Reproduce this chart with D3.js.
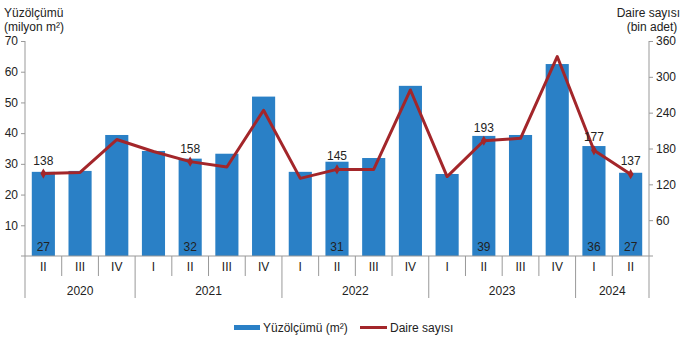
<!DOCTYPE html>
<html><head><meta charset="utf-8">
<script src="https://cdn.jsdelivr.net/npm/d3@7"></script>
<style>body{margin:0;background:#fff}svg text{font-family:"Liberation Sans",Arial,sans-serif;fill:#222}</style>
</head><body><svg id="c" width="682" height="357"></svg>
<script>
const quarters = ["II","III","IV","I","II","III","IV","I","II","III","IV","I","II","III","IV","I","II"];
const years = ["2020","2020","2020","2021","2021","2021","2021","2022","2022","2022","2022","2023","2023","2023","2023","2024","2024"];
const area = [27.4,27.7,39.4,34.2,31.7,33.3,51.9,27.4,30.7,31.9,55.4,26.7,39.1,39.4,62.5,35.8,27.1];
const dwellings = [138,140,195,175,158,149,244,130,145,145,278,133,193,197,334,177,137];
const labeled = [0,4,8,12,15,16];
const leftTicks = [10,20,30,40,50,60,70];
const rightTicks = [60,120,180,240,300,360];
const barColor = "#2A80C6", lineColor = "#A3262A";

const svg = d3.select("#c");
const x0 = 25, x1 = 649, yTop = 41, yBot = 256;
const idx = d3.range(quarters.length);
const x = d3.scaleBand().domain(idx).range([x0, x1]).paddingInner(0.37).paddingOuter(0.185);
const xc = i => x(i) + x.bandwidth()/2;
const yL = d3.scaleLinear().domain([0,70]).range([yBot, yTop]);
const yR = d3.scaleLinear().domain([0,360]).range([yBot, yTop]);

// bars
svg.append("g").selectAll("rect").data(idx).join("rect")
  .attr("x", i => x(i)).attr("width", x.bandwidth())
  .attr("y", i => yL(area[i])).attr("height", i => yBot - yL(area[i]))
  .attr("fill", barColor);

// left axis
const gl = svg.append("g").attr("transform", `translate(${x0},0)`)
  .call(d3.axisLeft(yL).tickValues(leftTicks).tickSize(4).tickPadding(3));
gl.select(".domain").remove();
gl.selectAll("line").attr("stroke","#999");
gl.selectAll("text").style("font-size","12px").attr("fill","#222");
svg.append("line").attr("x1",x0).attr("x2",x0).attr("y1",yTop).attr("y2",298).attr("stroke","#999");

// right axis
const gr = svg.append("g").attr("transform", `translate(${x1},0)`)
  .call(d3.axisRight(yR).tickValues(rightTicks).tickSize(4).tickPadding(3));
gr.select(".domain").remove();
gr.selectAll("line").attr("stroke","#999");
gr.selectAll("text").style("font-size","12px").attr("fill","#222");
svg.append("line").attr("x1",x1).attr("x2",x1).attr("y1",yTop).attr("y2",298).attr("stroke","#999");

// baseline
svg.append("line").attr("x1",x0-4).attr("x2",x1+4).attr("y1",yBot).attr("y2",yBot).attr("stroke","#999");

// quarter separators and labels
idx.forEach(i => {
  if (i > 0) {
    const sx = x(i) - x.step()*x.paddingInner()/2;
    const newYear = years[i] !== years[i-1];
    svg.append("line").attr("x1",sx).attr("x2",sx).attr("y1",yBot).attr("y2", newYear ? 298 : 276).attr("stroke","#999");
  }
  svg.append("text").attr("x", xc(i)).attr("y", 271).attr("text-anchor","middle")
    .style("font-size","12px").text(quarters[i]);
});
// year labels
const yearNames = Array.from(new Set(years));
yearNames.forEach(yv => {
  const ids = idx.filter(i => years[i] === yv);
  const cx = (xc(ids[0]) + xc(ids[ids.length-1]))/2;
  svg.append("text").attr("x", cx).attr("y", 295).attr("text-anchor","middle")
    .style("font-size","12px").text(yv);
});

// line
const line = d3.line().x(i => xc(i)).y(i => yR(dwellings[i]));
svg.append("path").datum(idx).attr("d", line).attr("fill","none")
  .attr("stroke", lineColor).attr("stroke-width", 3).attr("stroke-linejoin","round");
svg.append("g").selectAll("path").data(labeled).join("path")
  .attr("d", d3.symbol(d3.symbolDiamond, 30)())
  .attr("transform", i => `translate(${xc(i)},${yR(dwellings[i])})`)
  .attr("fill", lineColor);

// labels
labeled.forEach(i => {
  svg.append("text").attr("x", xc(i)).attr("y", yR(dwellings[i]) - 9).attr("text-anchor","middle")
    .style("font-size","12px").text(dwellings[i]);
  svg.append("text").attr("x", xc(i)).attr("y", 251).attr("text-anchor","middle")
    .style("font-size","12px").text(Math.round(area[i]));
});

// titles
svg.append("text").attr("x",4).attr("y",17).style("font-size","12px").text("Yüzölçümü");
svg.append("text").attr("x",4).attr("y",31).style("font-size","12px").text("(milyon m²)");
svg.append("text").attr("x",680).attr("y",17).attr("text-anchor","end").style("font-size","12px").text("Daire sayısı");
svg.append("text").attr("x",652).attr("y",31).attr("text-anchor","middle").style("font-size","12px").text("(bin adet)");

// legend
svg.append("rect").attr("x",234).attr("y",325).attr("width",26).attr("height",5).attr("fill",barColor);
svg.append("text").attr("x",263).attr("y",332).style("font-size","12px").text("Yüzölçümü (m²)");
svg.append("line").attr("x1",360).attr("x2",387).attr("y1",327.5).attr("y2",327.5).attr("stroke",lineColor).attr("stroke-width",3);
svg.append("text").attr("x",390).attr("y",332).style("font-size","12px").text("Daire sayısı");
</script></body></html>
